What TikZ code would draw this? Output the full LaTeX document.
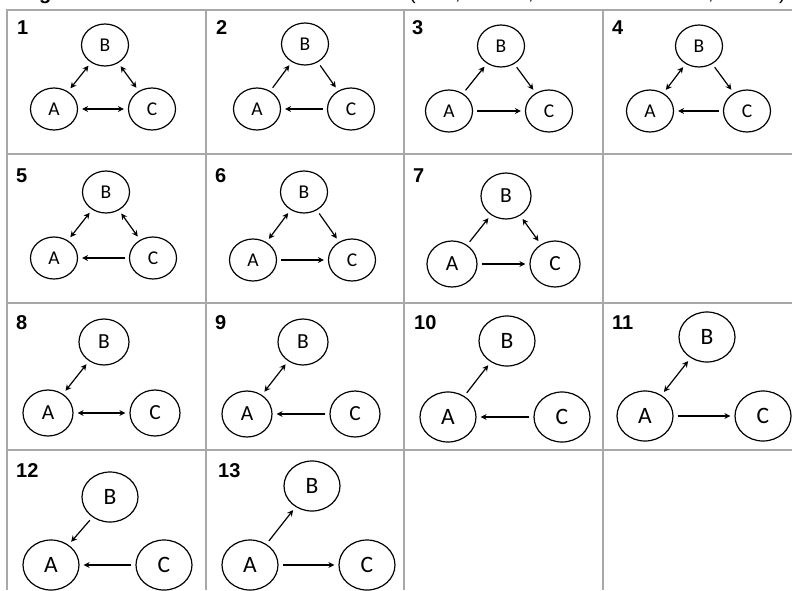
\documentclass[tikz,border=0pt]{standalone}
\usepackage{fontspec}
\setmainfont{Carlito}
\newfontfamily\numfont{Liberation Sans}
\usetikzlibrary{shapes.geometric,arrows.meta}
\definecolor{rule}{HTML}{A8A8A8}

\begin{document}
\begin{tikzpicture}[
  x=1pt, y=-1pt,
  >={Stealth[length=6pt,width=6pt]},
  vtx/.style={ellipse,draw,line width=1.2pt,inner sep=0pt,minimum width=47pt,minimum height=42pt,font=\fontsize{19.5}{19.5}\selectfont},
  midring/.style={vtx/.append style={minimum width=50pt,minimum height=46pt,font=\fontsize{21.5}{21.5}\selectfont}},
  bigring/.style={vtx/.append style={minimum width=56pt,minimum height=50pt,font=\fontsize{23.5}{23.5}\selectfont}},
  link/.style={line width=1.2pt,shorten <=4pt,shorten >=4pt},
  numtag/.style={anchor=base west,inner sep=0pt,font=\numfont\bfseries\fontsize{20}{20}\selectfont},
  frag/.style={anchor=base west,inner sep=0pt,font=\numfont\fontsize{20}{20}\selectfont},
  gridline/.style={draw=rule,line width=2pt}
]

\def\trio#1:#2/#3/#4;{
  \node[vtx] (a#1) at (#2) {A};
  \node[vtx] (b#1) at (#3) {B};
  \node[vtx] (c#1) at (#4) {C};
}

\useasboundingbox (0,0) rectangle (792,590);

% cut-off caption line
\begin{scope}
\clip (0,0) rectangle (792,8);
\node[frag,font=\numfont\bfseries\fontsize{20}{20}\selectfont] (t1) at (39,-1) {g};
\node[frag] (t2) at (409,-1) {(};
\node[frag] (t3) at (455,-1) {,};
\node[frag] (t4) at (528,-1) {,};
\node[frag] (t5) at (708,-1) {,};
\node[frag] (t6) at (779,-1) {)};
\end{scope}

% table rules
\foreach \y in {10,154,303,450} \draw[gridline] (6,\y) -- (792,\y);
\foreach \x in {7,206,404,603} \draw[gridline] (\x,10) -- (\x,590);

% row 1
\begin{scope}[shift={(7,10)}]
\node[numtag] (n1) at (10,24) {1};
\trio 1:47,99/98,35/145,99;
\draw[link,<->] (a1) -- (b1);
\draw[link,<->] (b1) -- (c1);
\draw[link,<->] (a1) -- (c1);
\end{scope}

\begin{scope}[shift={(206,10)}]
\node[numtag] (n2) at (10,24) {2};
\trio 2:51,99/99,34/145,99;
\draw[link,->] (a2) -- (b2);
\draw[link,->] (b2) -- (c2);
\draw[link,->] (c2) -- (a2);
\end{scope}

\begin{scope}[shift={(404,10)}]
\node[numtag] (n3) at (8,24) {3};
\trio 3:45,101/97,36/145,101;
\draw[link,->] (a3) -- (b3);
\draw[link,->] (b3) -- (c3);
\draw[link,->] (a3) -- (c3);
\end{scope}

\begin{scope}[shift={(603,10)}]
\node[numtag] (n4) at (9,24) {4};
\trio 4:47,101/96,36/144,101;
\draw[link,<->] (a4) -- (b4);
\draw[link,->] (b4) -- (c4);
\draw[link,->] (c4) -- (a4);
\end{scope}

% row 2
\begin{scope}[shift={(7,154)}]
\node[numtag] (n5) at (9,28) {5};
\trio 5:47,104/99,38/146,104;
\draw[link,<->] (a5) -- (b5);
\draw[link,<->] (b5) -- (c5);
\draw[link,->] (c5) -- (a5);
\end{scope}

\begin{scope}[shift={(206,154)}]
\node[numtag] (n6) at (9,28) {6};
\trio 6:47,106/98,38/146,106;
\draw[link,<->] (a6) -- (b6);
\draw[link,->] (b6) -- (c6);
\draw[link,->] (a6) -- (c6);
\end{scope}

\begin{scope}[shift={(404,154)},midring]
\node[numtag] (n7) at (9,28) {7};
\trio 7:48,110/102,42/151,110;
\draw[link,->] (a7) -- (b7);
\draw[link,<->] (b7) -- (c7);
\draw[link,->] (a7) -- (c7);
\end{scope}

% row 3
\begin{scope}[shift={(7,303)},midring]
\node[numtag] (n8) at (9,26) {8};
\trio 8:41,110/97,39/148,110;
\draw[link,<->] (a8) -- (b8);
\draw[link,<->] (a8) -- (c8);
\end{scope}

\begin{scope}[shift={(206,303)},midring]
\node[numtag] (n9) at (9,26) {9};
\trio 9:41,111/97,39/149,111;
\draw[link,<->] (a9) -- (b9);
\draw[link,->] (c9) -- (a9);
\end{scope}

\begin{scope}[shift={(404,303)},bigring]
\node[numtag] (n10) at (10,26) {10};
\trio 10:44,114/103,38/158,114;
\draw[link,->] (a10) -- (b10);
\draw[link,->] (c10) -- (a10);
\end{scope}

\begin{scope}[shift={(603,303)},bigring]
\node[numtag] (n11) at (9,26) {11};
\trio 11:42,113/104,34/160,113;
\draw[link,<->] (a11) -- (b11);
\draw[link,->] (a11) -- (c11);
\end{scope}

% row 4
\begin{scope}[shift={(7,450)},bigring]
\node[numtag] (n12) at (9,27) {12};
\trio 12:44,115/103,47/157,115;
\draw[link,->] (b12) -- (a12);
\draw[link,->] (c12) -- (a12);
\end{scope}

\begin{scope}[shift={(206,450)},bigring]
\node[numtag] (n13) at (12,27) {13};
\trio 13:44,115/106,36/161,115;
\draw[link,->] (a13) -- (b13);
\draw[link,->] (a13) -- (c13);
\end{scope}

\end{tikzpicture}
\end{document}
